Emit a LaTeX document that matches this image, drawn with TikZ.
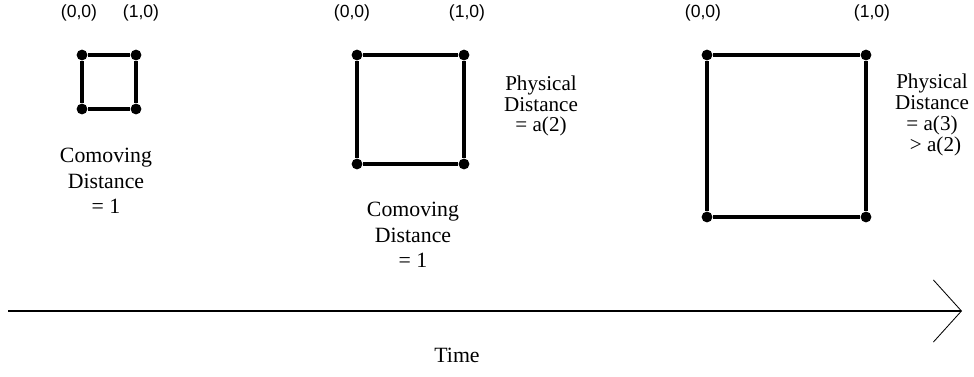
\documentclass[tikz,border=0pt]{standalone}
\usepackage{fontspec}
\setmainfont{Liberation Serif}
\newfontfamily\labelfont{Liberation Sans}
\usetikzlibrary{arrows.meta}

\begin{document}
\begin{tikzpicture}[x=0.025cm,y=-0.025cm,
  corner/.style={circle,fill=black,inner sep=0pt,minimum size=0.27cm},
  edge/.style={line width=2.3pt},
  coordtext/.style={font=\labelfont\fontsize{12.5}{15}\selectfont},
  comoving/.style={align=center,font=\fontsize{15.5}{18}\selectfont},
  physical/.style={align=center,font=\fontsize{15}{14.8}\selectfont}]
\path[use as bounding box] (0,0) rectangle (974,376);
\node[corner] (aTL) at (82,55) {};
\node[corner] (aTR) at (136,55) {};
\node[corner] (aBR) at (136,109) {};
\node[corner] (aBL) at (82,109) {};
\draw[edge] (aTL) -- (aTR) -- (aBR) -- (aBL) -- (aTL);
\node[corner] (bTL) at (357,55) {};
\node[corner] (bTR) at (464,55) {};
\node[corner] (bBR) at (464,164) {};
\node[corner] (bBL) at (357,164) {};
\draw[edge] (bTL) -- (bTR) -- (bBR) -- (bBL) -- (bTL);
\node[corner] (cTL) at (707,55) {};
\node[corner] (cTR) at (866,55) {};
\node[corner] (cBR) at (866,217) {};
\node[corner] (cBL) at (707,217) {};
\draw[edge] (cTL) -- (cTR) -- (cBR) -- (cBL) -- (cTL);
\node[coordtext] (aO) at (79,13) {(0,0)};
\node[coordtext] (aX) at (141,13) {(1,0)};
\node[coordtext] (bO) at (352,13) {(0,0)};
\node[coordtext] (bX) at (467,13) {(1,0)};
\node[coordtext] (cO) at (703,13) {(0,0)};
\node[coordtext] (cX) at (872,13) {(1,0)};
\node[comoving] (aCom) at (106,181) {Comoving\\Distance\\= 1};
\node[comoving] (bCom) at (413,235) {Comoving\\Distance\\= 1};
\node[physical] (bPhys) at (541,106) {Physical\\Distance\\= a(2)};
\node[physical] (cPhys) at (932,115) {Physical\\Distance\\= a(3)\\\,\,> a(2)};
\coordinate (tStart) at (8,311);
\coordinate (tEnd) at (962,311);
\draw[line width=1.1pt,-{Straight Barb[length=0.7cm,width=1.55cm,line width=0.6pt]}] (tStart) -- (tEnd);
\node[comoving] (time) at (457,355) {Time};
\end{tikzpicture}
\end{document}
